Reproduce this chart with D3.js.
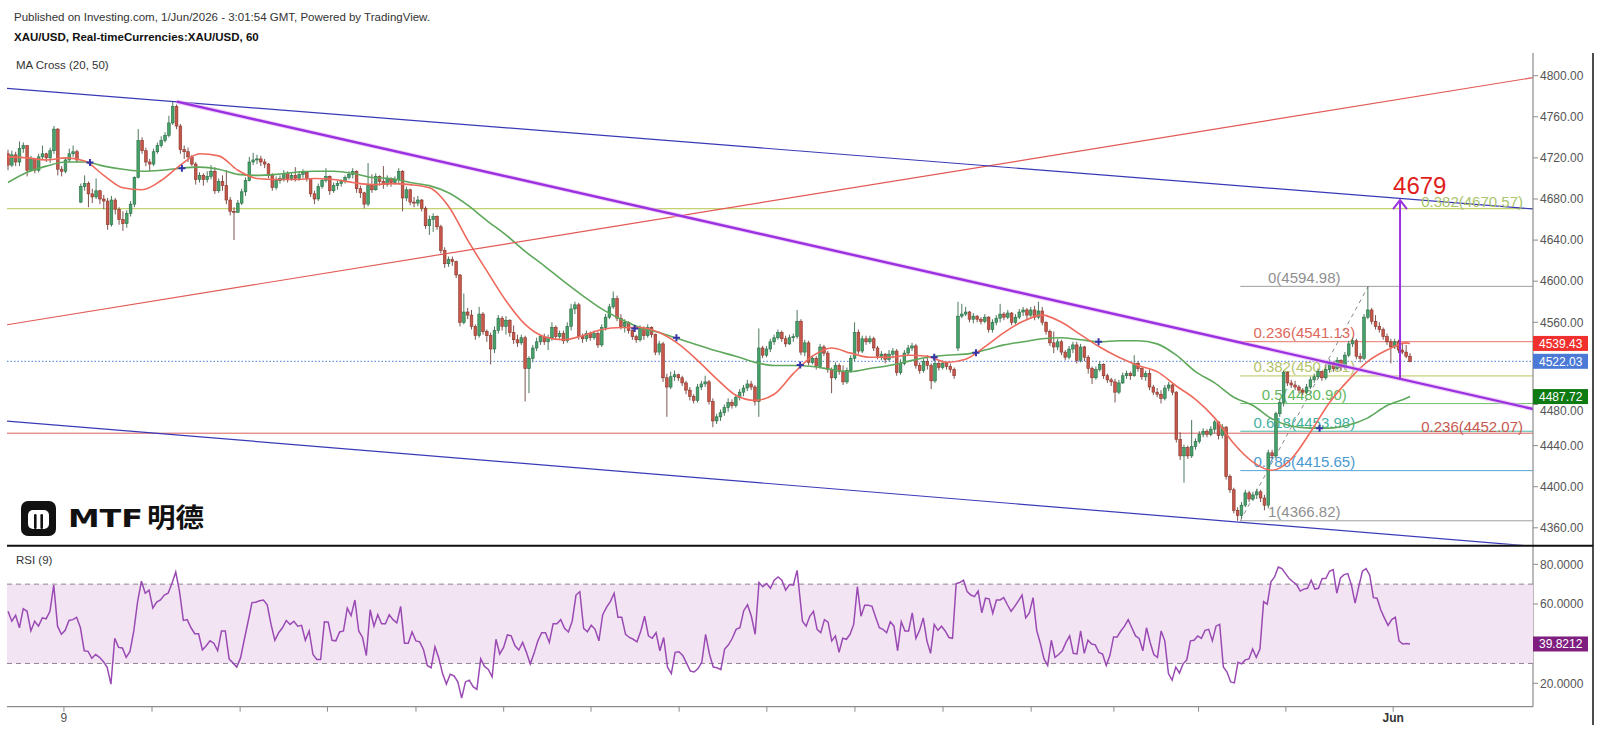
<!DOCTYPE html>
<html><head><meta charset="utf-8">
<script src="https://cdn.jsdelivr.net/npm/d3@7"></script>
<style>
html,body{margin:0;padding:0;background:#fff;}
svg{display:block;font-family:"Liberation Sans",Arial,sans-serif;}
</style></head><body>
<svg id="c" width="1600" height="734"></svg>
<script>
// ---------------- DATA ----------------
const closes = [4713,4723,4716,4729,4732,4708,4719,4708,4721,4724,
4720,4727,4748,4709,4707,4718,4724,4726,4718,4692,
4695,4685,4682,4688,4680,4678,4655,4679,4670,4660,
4656,4666,4675,4701,4737,4727,4716,4714,4726,4732,
4737,4742,4754,4770,4751,4728,4726,4721,4714,4699,
4703,4699,4702,4707,4688,4697,4693,4679,4668,4667,
4676,4687,4698,4716,4718,4719,4716,4714,4703,4691,
4698,4700,4705,4700,4703,4700,4704,4706,4700,4685,
4680,4692,4698,4702,4688,4693,4695,4697,4701,4704,
4707,4690,4686,4675,4693,4689,4702,4697,4694,4700,
4696,4699,4707,4681,4689,4677,4676,4679,4671,4654,
4660,4663,4653,4630,4617,4621,4619,4606,4560,4570,
4567,4556,4547,4568,4551,4547,4534,4552,4564,4556,
4562,4550,4543,4540,4545,4515,4525,4535,4541,4546,
4541,4545,4555,4546,4549,4542,4556,4573,4577,4546,
4544,4549,4545,4549,4538,4555,4565,4575,4583,4564,
4556,4560,4552,4546,4543,4554,4547,4555,4548,4531,
4539,4506,4497,4507,4509,4506,4501,4494,4488,4484,
4497,4500,4502,4483,4464,4468,4472,4477,4482,4479,
4487,4492,4496,4500,4497,4483,4535,4528,4534,4541,
4545,4550,4544,4539,4545,4546,4561,4531,4540,4521,
4525,4517,4536,4530,4514,4506,4518,4512,4502,4513,
4525,4550,4532,4544,4541,4544,4535,4527,4529,4524,
4529,4532,4511,4520,4530,4535,4537,4518,4513,4522,
4518,4503,4520,4516,4520,4517,4514,4508,4566,4568,
4570,4563,4566,4563,4561,4565,4553,4560,4564,4568,
4565,4569,4560,4565,4570,4572,4567,4572,4565,4571,
4560,4551,4540,4536,4541,4531,4526,4534,4538,4523,
4536,4526,4515,4506,4514,4519,4508,4504,4502,4492,
4501,4508,4510,4508,4520,4515,4507,4510,4497,4492,
4490,4486,4496,4499,4492,4446,4430,4438,4430,4439,
4444,4451,4454,4451,4456,4463,4450,4458,4410,4397,
4377,4372,4382,4394,4388,4392,4395,4389,4382,4433,
4430,4471,4482,4511,4501,4499,4497,4494,4492,4497,
4504,4507,4512,4506,4514,4521,4515,4523,4516,4528,
4539,4542,4527,4525,4565,4572,4561,4556,4553,4546,
4541,4536,4541,4533,4531,4527,4522.03];
const highs = [4728,4727,4726,4736,4735,4732,4722,4720,4724,4732,
4725,4730,4751,4749,4712,4720,4729,4732,4728,4695,
4703,4697,4690,4700,4689,4684,4681,4683,4681,4672,
4668,4669,4678,4702,4748,4740,4730,4719,4729,4735,
4741,4745,4761,4775,4772,4753,4732,4730,4723,4716,
4706,4705,4707,4713,4711,4700,4703,4708,4682,4672,
4679,4690,4701,4721,4725,4723,4722,4719,4715,4705,
4702,4703,4708,4707,4706,4711,4707,4709,4707,4700,
4688,4695,4700,4710,4703,4696,4698,4699,4703,4707,
4710,4708,4693,4687,4715,4704,4705,4703,4712,4703,
4701,4702,4710,4708,4692,4690,4682,4683,4680,4673,
4664,4666,4664,4655,4633,4624,4624,4620,4607,4588,
4574,4572,4558,4575,4570,4553,4550,4556,4567,4566,
4566,4563,4557,4548,4548,4547,4527,4538,4545,4548,
4549,4548,4560,4557,4552,4552,4560,4578,4580,4579,
4549,4552,4551,4552,4551,4558,4568,4578,4590,4586,
4568,4563,4561,4553,4548,4557,4556,4558,4556,4549,
4542,4541,4510,4512,4513,4510,4508,4503,4497,4490,
4500,4503,4508,4504,4486,4471,4475,4480,4486,4485,
4490,4495,4499,4504,4503,4499,4554,4537,4537,4544,
4548,4553,4552,4547,4548,4549,4572,4563,4543,4542,
4528,4527,4539,4538,4532,4516,4521,4520,4518,4516,
4528,4560,4553,4547,4547,4547,4546,4537,4532,4530,
4533,4535,4534,4524,4533,4538,4540,4539,4521,4525,
4528,4520,4523,4522,4523,4521,4520,4516,4580,4578,
4575,4571,4569,4567,4565,4568,4566,4563,4567,4578,
4570,4572,4570,4568,4573,4575,4574,4575,4576,4580,
4575,4561,4553,4551,4544,4543,4533,4537,4541,4541,
4539,4537,4528,4517,4517,4522,4520,4510,4506,4505,
4504,4511,4513,4512,4528,4522,4516,4513,4514,4499,
4496,4494,4499,4502,4500,4493,4453,4441,4440,4465,
4447,4454,4457,4456,4459,4465,4464,4461,4459,4412,
4399,4380,4385,4397,4396,4395,4398,4397,4392,4436,
4436,4473,4485,4513,4512,4504,4503,4499,4496,4500,
4507,4510,4515,4512,4517,4524,4522,4526,4524,4531,
4542,4545,4544,4530,4568,4594.98,4574,4567,4560,4555,
4549,4544,4544,4543,4540,4538,4530];
const lows = [4708,4711,4712,4712,4725,4702,4707,4705,4706,4718,
4716,4715,4724,4703,4702,4705,4716,4721,4715,4676,
4688,4672,4676,4680,4675,4670,4650,4653,4665,4655,
4649,4652,4663,4672,4700,4724,4712,4707,4712,4724,
4730,4735,4740,4752,4748,4724,4719,4716,4712,4694,
4696,4693,4696,4699,4685,4686,4688,4675,4664,4640,
4668,4674,4683,4697,4713,4714,4712,4710,4700,4688,
4689,4695,4697,4696,4698,4697,4698,4700,4697,4682,
4675,4678,4690,4696,4684,4686,4689,4692,4695,4699,
4700,4686,4681,4671,4673,4686,4688,4693,4690,4692,
4692,4694,4694,4668,4678,4674,4672,4673,4668,4651,
4645,4648,4650,4627,4613,4614,4615,4603,4556,4558,
4563,4553,4543,4545,4548,4541,4519,4530,4549,4552,
4548,4546,4539,4536,4538,4483,4491,4521,4532,4538,
4538,4533,4542,4543,4543,4539,4540,4552,4568,4543,
4540,4541,4542,4543,4535,4536,4552,4563,4573,4561,
4553,4550,4549,4543,4540,4541,4543,4545,4545,4528,
4528,4502,4468,4495,4503,4503,4498,4490,4484,4481,
4482,4494,4497,4480,4458,4461,4464,4469,4473,4476,
4477,4484,4488,4493,4494,4479,4468,4525,4526,4531,
4538,4543,4541,4536,4538,4541,4544,4528,4527,4518,
4519,4514,4515,4527,4511,4491,4504,4509,4499,4500,
4511,4522,4529,4530,4538,4539,4532,4524,4523,4520,
4522,4525,4508,4509,4518,4528,4532,4515,4510,4511,
4514,4495,4501,4513,4514,4514,4511,4505,4532,4564,
4566,4560,4559,4560,4558,4559,4550,4550,4557,4560,
4562,4563,4557,4558,4563,4566,4563,4565,4562,4563,
4557,4548,4537,4530,4533,4528,4523,4524,4530,4520,
4521,4522,4510,4500,4504,4512,4505,4501,4498,4482,
4490,4500,4505,4504,4507,4512,4504,4503,4494,4489,
4487,4481,4484,4493,4489,4443,4426,4404,4427,4428,
4436,4442,4448,4448,4449,4452,4446,4447,4407,4394,
4374,4366.82,4369,4380,4385,4386,4388,4385,4377,4379,
4427,4428,4468,4478,4498,4496,4494,4491,4489,4490,
4495,4501,4505,4503,4504,4511,4512,4513,4513,4514,
4526,4536,4524,4521,4523,4563,4558,4553,4550,4543,
4538,4520,4534,4530,4529,4525,4521];
const firstOpen = 4724;
const gapOpens = [[19, 4677], [248, 4535]];   // session gaps [bar, open]

// moving averages (bar index, value)
const maIdx = [0,5,10,15,20,25,30,35,40,45,50,55,60,65,70,75,80,85,90,95,100,105,110,115,120,125,130,135,140,145,150,155,160,165,170,175,180,185,190,195,200,205,210,215,220,225,230,235,240,245,250,255,260,265,270,275,280,285,290,295,300,305,310,315,320,325,330,335,340,345,350,355,360,365,366];
const ma20 = [4721,4720,4718,4720,4717,4703,4691,4689,4698,4713,4724,4722,4708,4700,4699,4699,4700,4699,4696,4694,4695,4694,4691,4673,4640,4610,4581,4558,4546,4543,4547,4553,4555,4555,4550,4539,4523,4505,4489,4484,4490,4510,4527,4535,4530,4526,4526,4528,4527,4521,4524,4536,4550,4561,4567,4560,4548,4536,4526,4518,4512,4498,4485,4467,4442,4424,4416,4427,4453,4482,4504,4522,4533,4540,4539.43];
const ma50 = [4696,4706,4712,4716,4716,4712,4709,4707,4708,4710,4711,4709,4704,4703,4704,4706,4707,4707,4705,4701,4700,4696,4693,4686,4674,4659,4645,4629,4615,4600,4586,4573,4563,4555,4550,4544,4538,4532,4527,4521,4518,4518,4517,4514,4512,4515,4518,4522,4526,4528,4529,4533,4538,4541,4544,4545,4543,4541,4542,4542,4539,4528,4512,4501,4487,4479,4466,4459,4457,4457,4460,4467,4479,4486,4487.72];
const crossIdx = [21.4,45.4,163.6,174.5,206.8,241.8,252.7,284.7,342.4];
const crossPrice = [4715.5,4709.9,4553.9,4544.9,4518.4,4525.9,4530.4,4541.1,4456.8];

// RSI(9), two spans of bars
const rsiA = [56.3,51.3,54.3,48.0,57.6,56.3,46.4,51.3,48.8,53.0,52.5,56.3,69.5,48.8,44.7,46.7,51.7,52.1,53.3,48.0,36.4,36.1,32.6,34.5,33.1,31.0,28.2,19.6,42.7,38.1,37.8,33.1,36.1,46.4,61.2,71.5,65.4,67.0,57.9,60.9,62.0,64.5,65.4,70.3,76.1,66.2,51.7,52.1,48.0,45.0,45.0,36.8,38.9,41.4,40.2,36.4,46.4,46.4,32.3,30.3,28.2,32.8,42.2,51.3,60.7,60.9,61.6,62.0,59.6,49.7,41.7,45.5,48.0,51.7,49.7,51.3,48.8,49.2,41.7,46.4,34.5,32.0,32.0,51.0,50.8,41.7,41.4,45.9,46.4,57.9,54.1,62.0,46.4,43.1,34.0,57.1,48.8,54.6,50.0,50.0,54.6,52.1,50.5,58.8,40.2,40.2,45.9,41.4,40.9,36.9,29.0,27.8,38.4,32.8,24.9,19.6,24.6,23.7,20.7,12.5,20.7,21.6,18.3,16.9,32.3,28.5,27.0,23.2,42.2,34.8,38.1,44.4,43.9,38.9,36.8,40.6,35.6,29.8,35.1,41.4,45.5,45.5,40.6,50.0,50.0,52.1,47.7,45.9,51.3,64.5,66.2,47.7,46.0,49.3,47.2,41.4,54.6,58.3,61.2,65.4,53.3,53.3,44.7,43.1,42.2,40.9,46.4,53.8,43.9,42.7,45.5,36.4,43.1,28.2,24.9,35.6,35.9,34.0,30.2,26.2,25.7,27.4,30.6,44.7,34.8,28.2,27.8,26.9,37.3,39.4,42.7,47.2,48.0,56.6,59.6,53.8,44.7,70.8,68.7,70.3,67.9,72.0,73.6,72.0,67.0,69.8,69.5,76.9];
const rsiB = [51.3,48.8,53.8,56.3,47.2,45.5,52.1,50.8,41.4,43.9,35.6,42.7,42.2,44.7,49.7,68.7,53.8,59.3,59.3,58.8,53.3,48.0,47.2,45.5,51.0,48.8,36.4,51.0,46.4,46.4,55.5,42.7,46.7,53.0,41.4,35.1,49.7,46.7,48.8,46.4,43.1,42.7,70.3,70.8,72.0,66.2,64.5,63.7,66.5,55.5,62.9,62.6,55.3,62.0,62.0,63.2,59.6,56.3,58.8,61.6,64.5,53.0,55.5,63.2,46.7,40.1,32.3,29.0,41.7,33.1,34.5,36.4,40.6,43.9,35.1,34.8,46.4,35.1,41.7,39.8,39.4,35.6,34.8,29.0,34.0,43.4,43.4,46.4,48.8,52.1,48.0,43.9,42.6,36.4,48.0,40.6,34.5,33.1,46.4,41.4,24.9,21.6,28.2,25.2,29.8,31.8,41.4,41.7,43.9,42.7,46.7,47.2,41.4,48.8,49.7,28.2,25.7,20.7,20.2,30.6,29.8,31.8,32.3,37.3,33.1,37.3,61.2,59.9,71.2,73.6,78.6,77.8,75.3,72.8,71.2,69.8,66.5,67.5,67.9,72.0,67.5,67.9,72.8,72.8,76.5,77.3,65.4,73.1,74.8,75.3,69.5,60.4,68.7,76.5,77.8,74.5,63.2,62.9,57.1,53.0,49.2,52.1,53.3,41.4,39.8,40.1,39.8212];
const rsiSpanA = [0, 206];
const rsiSpanB = [207.4, 366];

// drawings (bar index, price)
const channelUpper = [[-0.3,4787.7],[398.2,4670.3]];
const channelLower = [[-0.26,4463.9],[398.2,4342.0]];
const trendPurple = [[44.05,4774.7],[398.2,4475.6]];
const trendRed = [[-0.26,4557.6],[398.2,4798.2]];
const arrowBar = 363.4, arrowFrom = 4504.5, arrowTo = 4679, arrowText = "4679";

const fibRatios = ["0","0.236","0.382","0.5","0.618","0.786","1"];
const fibValues = [4594.98,4541.13,4507.81,4480.90,4453.98,4415.65,4366.82];
const fibColors = ["#9e9e9e","#e57368","#b9c65a","#6dbf6a","#4db8a8","#56a6d6","#9e9e9e"];
const fibTextColors = ["#8f8f8f","#e0675c","#b5c36a","#5fb85c","#45b0a0","#4a9ad0","#8f8f8f"];
const fibFrom = 321.7, fibTo = 355.1;

const bigFibRatios = ["0.382","0.236"];
const bigFibValues = [4670.57, 4452.07];
const bigFibColors = ["#b6c752","#d9625a"];
const bigFibText = ["#a9c46c","#c95a50"];

const lastPrice = 4522.03;
const priceTicks = [4360,4400,4440,4480,4520,4560,4600,4640,4680,4720,4760,4800];
const rsiTicks = [20,40,60,80];
const tickIdx = [14.6,37.6,60.6,83.4,106.5,129.4,152.2,175.2,198.1,221.1,244.1,267.1,288.7,310.8,333.6,361.6];
const tickLabels = ["9","","","","","","","","","","","","","","","Jun"];
const priceBoxes = [[4539.43,"#f0302e"],[4522.03,"#4a7ad6"],[4487.72,"#0d7a12"]];
const rsiBox = [39.8212,"#7e1f80"];

// ---------------- LAYOUT ----------------
const svg = d3.select('#c');
const L=7, R=1533, TOP=53, MID=545.7, RBOT=706.7, FR=1593;
const N = closes.length;
const x = d3.scaleLinear().domain([0, N-1]).range([8, 1410]);
const y = d3.scaleLinear().domain([4360, 4800]).range([527.8, 75.7]);
const yr = d3.scaleLinear().domain([20, 80]).range([683.3, 564.3]);

const defs = svg.append('defs');
defs.append('clipPath').attr('id','cm').append('rect').attr('x',L).attr('y',TOP).attr('width',R-L).attr('height',MID-TOP-1);
defs.append('clipPath').attr('id','cr').append('rect').attr('x',L).attr('y',MID+1).attr('width',R-L).attr('height',RBOT-MID-1);

// header
svg.append('text').attr('x',14).attr('y',21).attr('font-size',11.5).attr('fill','#333').text('Published on Investing.com, 1/Jun/2026 - 3:01:54 GMT, Powered by TradingView.');
svg.append('text').attr('x',14).attr('y',41).attr('font-size',11.5).attr('font-weight','bold').attr('fill','#111').text('XAU/USD, Real-timeCurrencies:XAU/USD, 60');

const gm = svg.append('g').attr('clip-path','url(#cm)');

// big fib levels (full width)
bigFibValues.forEach((v,k)=>{
  gm.append('line').attr('x1',L).attr('x2',R).attr('y1',y(v)).attr('y2',y(v)).attr('stroke',bigFibColors[k]).attr('stroke-width',1);
});
// last price dotted line
gm.append('line').attr('x1',L).attr('x2',R).attr('y1',y(lastPrice)).attr('y2',y(lastPrice)).attr('stroke','#4a7ad6').attr('stroke-width',1).attr('stroke-dasharray','1.5,2');

// fib retracement
fibValues.forEach((v,k)=>{
  gm.append('line').attr('x1',x(fibFrom)).attr('x2',R).attr('y1',y(v)).attr('y2',y(v)).attr('stroke',fibColors[k]).attr('stroke-width',1);
  gm.append('text').attr('x',x((fibFrom+fibTo)/2)).attr('y',y(v)-3.5).attr('text-anchor','middle').attr('font-size',15).attr('fill',fibTextColors[k]).text(fibRatios[k]+'('+v.toFixed(2)+')');
});
gm.append('line').attr('x1',x(fibFrom)).attr('y1',y(fibValues[6])).attr('x2',x(fibTo)).attr('y2',y(fibValues[0])).attr('stroke','#8a8a8a').attr('stroke-width',1).attr('stroke-dasharray','4,4');

// candles
const opens = closes.map((c,i)=> i===0 ? firstOpen : closes[i-1]);
gapOpens.forEach(([i,o])=>{opens[i]=o;});
const bars = closes.map((c,i)=>({i, o:opens[i], c, h:Math.max(highs[i],opens[i],c), l:Math.min(lows[i],opens[i],c)}));
const UPF='#45a269', UPS='#2c6b46', DNF='#c8574b', DNS='#873429';
const cg = gm.append('g');
cg.selectAll('line').data(bars).join('line')
  .attr('x1',d=>x(d.i)).attr('x2',d=>x(d.i)).attr('y1',d=>y(d.h)).attr('y2',d=>y(d.l))
  .attr('stroke',d=>d.c>=d.o?'#4d7a5e':'#7d5550').attr('stroke-width',1);
cg.selectAll('rect').data(bars).join('rect')
  .attr('x',d=>x(d.i)-1.35).attr('width',2.7)
  .attr('y',d=>y(Math.max(d.o,d.c)))
  .attr('height',d=>Math.max(0.8, y(Math.min(d.o,d.c))-y(Math.max(d.o,d.c))))
  .attr('fill',d=>d.c>=d.o?UPF:DNF).attr('stroke',d=>d.c>=d.o?UPS:DNS).attr('stroke-width',0.6);

// moving averages
const maLine = d3.line().x(d=>x(d[0])).y(d=>y(d[1])).curve(d3.curveMonotoneX);
gm.append('path').attr('d',maLine(maIdx.map((k,j)=>[k,ma50[j]]))).attr('fill','none').attr('stroke','#5ea85c').attr('stroke-width',1.6);
gm.append('path').attr('d',maLine(maIdx.map((k,j)=>[k,ma20[j]]))).attr('fill','none').attr('stroke','#ee6a5c').attr('stroke-width',1.6);
crossIdx.forEach((k,j)=>{
  const cx=x(k), cy=y(crossPrice[j]);
  gm.append('path').attr('d',`M${cx-3.5},${cy}H${cx+3.5}M${cx},${cy-3.5}V${cy+3.5}`).attr('stroke','#3535a8').attr('stroke-width',2);
});

// trend lines
function tline(pts,col,w){
  gm.append('line').attr('x1',x(pts[0][0])).attr('y1',y(pts[0][1])).attr('x2',x(pts[1][0])).attr('y2',y(pts[1][1])).attr('stroke',col).attr('stroke-width',w);
}
tline(trendRed,'#e25a55',1.2);
tline(channelUpper,'#3a3ab8',1.2);
tline(channelLower,'#3a3ab8',1.2);
gm.append('line').attr('x1',x(trendPurple[0][0])).attr('y1',y(trendPurple[0][1])).attr('x2',x(trendPurple[1][0])).attr('y2',y(trendPurple[1][1])).attr('stroke','#e9b6f5').attr('stroke-width',4.5).attr('opacity',0.6);
tline(trendPurple,'#9b30e0',2.4);

// arrow
const ax=x(arrowBar), ay1=y(arrowFrom), ay2=y(arrowTo);
gm.append('line').attr('x1',ax).attr('x2',ax).attr('y1',ay1).attr('y2',ay2).attr('stroke','#9b30e0').attr('stroke-width',2);
gm.append('path').attr('d',`M${ax-7},${ay2+9}L${ax},${ay2}L${ax+7},${ay2+9}`).attr('fill','none').attr('stroke','#9b30e0').attr('stroke-width',2);
gm.append('text').attr('x',ax-7).attr('y',ay2-6.5).attr('font-size',24).attr('fill','#e01e1e').text(arrowText);

// big fib labels
bigFibValues.forEach((v,k)=>{
  gm.append('text').attr('x',R-10).attr('y',y(v)-1.5).attr('text-anchor','end').attr('font-size',15).attr('fill',bigFibText[k]).text(bigFibRatios[k]+'('+v.toFixed(2)+')');
});

// indicator label
svg.append('text').attr('x',16).attr('y',69).attr('font-size',11.5).attr('fill','#333').text('MA Cross (20, 50)');

// logo
const lg = svg.append('g').attr('transform','translate(21,501)');
lg.append('rect').attr('width',35).attr('height',35).attr('rx',7).attr('fill','#111');
lg.append('rect').attr('x',7).attr('y',9).attr('width',21).attr('height',19).attr('rx',5).attr('fill','#fff');
lg.append('rect').attr('x',13).attr('y',13).attr('width',2.6).attr('height',15).attr('rx',1.3).attr('fill','#111');
lg.append('rect').attr('x',19.4).attr('y',13).attr('width',2.6).attr('height',15).attr('rx',1.3).attr('fill','#111');
svg.append('text').attr('x',68).attr('y',527).attr('font-size',24).attr('font-weight',900).attr('font-family','"DejaVu Sans",sans-serif').attr('textLength',75).attr('lengthAdjust','spacingAndGlyphs').attr('fill','#111').text('MTF');
svg.append('text').attr('x',147).attr('y',527).attr('font-size',26).attr('font-weight',700).attr('font-family','"Noto Sans CJK SC",sans-serif').attr('textLength',57).attr('lengthAdjust','spacingAndGlyphs').attr('fill','#111').text('明德');

// right price axis
svg.append('line').attr('x1',R).attr('x2',R).attr('y1',TOP).attr('y2',RBOT).attr('stroke','#8c8c8c').attr('stroke-width',1.2);
const boxYs = priceBoxes.map(b=>y(b[0]));
priceTicks.forEach(v=>{
  const ty = y(v);
  svg.append('line').attr('x1',R).attr('x2',R+5).attr('y1',ty).attr('y2',ty).attr('stroke','#8c8c8c');
  const near = boxYs.filter(by=>Math.abs(by-ty)<15);
  if(near.some(by=>Math.abs(by-ty)<4)) return;        // fully hidden by a box
  let ly = ty;
  near.forEach(by=>{ ly = by < ty ? Math.max(ly, by+7.5+6.5) : Math.min(ly, by-7.5-6.5); }); // nudge clear of a box
  svg.append('text').attr('x',R+7).attr('y',ly).attr('dy','0.35em').attr('font-size',12).attr('fill','#555').text(v.toFixed(2));
});
priceBoxes.forEach(([v,col])=>{
  svg.append('rect').attr('x',R).attr('y',y(v)-7.5).attr('width',55).attr('height',15).attr('fill',col);
  svg.append('text').attr('x',R+6).attr('y',y(v)).attr('dy','0.36em').attr('font-size',12).attr('fill','#fff').text(v.toFixed(2));
});

// separator
svg.append('line').attr('x1',L).attr('x2',FR).attr('y1',MID).attr('y2',MID).attr('stroke','#111').attr('stroke-width',2);

// RSI pane
const gr = svg.append('g').attr('clip-path','url(#cr)');
gr.append('rect').attr('x',L).attr('width',R-L).attr('y',yr(70)).attr('height',yr(30)-yr(70)).attr('fill','#f3e4f4');
[70,30].forEach(v=>gr.append('line').attr('x1',L).attr('x2',R).attr('y1',yr(v)).attr('y2',yr(v)).attr('stroke','#8e8590').attr('stroke-width',1).attr('stroke-dasharray','5,4'));
const sA = d3.scaleLinear().domain([0, rsiA.length-1]).range(rsiSpanA);
const sB = d3.scaleLinear().domain([0, rsiB.length-1]).range(rsiSpanB);
const rsiPts = rsiA.map((v,k)=>[sA(k),v]).concat(rsiB.map((v,k)=>[sB(k),v]));
gr.append('path').attr('d',d3.line().x(d=>x(d[0])).y(d=>yr(d[1]))(rsiPts)).attr('fill','none').attr('stroke','#9a4bb3').attr('stroke-width',1.5);
svg.append('text').attr('x',16).attr('y',564).attr('font-size',11.5).attr('fill','#333').text('RSI (9)');
rsiTicks.forEach(v=>{
  svg.append('line').attr('x1',R).attr('x2',R+5).attr('y1',yr(v)).attr('y2',yr(v)).attr('stroke','#8c8c8c');
  if(Math.abs(yr(v)-yr(rsiBox[0]))<4) return;  // fully under the RSI value box
  svg.append('text').attr('x',R+7).attr('y',yr(v)).attr('dy','0.35em').attr('font-size',12).attr('fill','#555').text(v.toFixed(4));
});
svg.append('rect').attr('x',R).attr('y',yr(rsiBox[0])-7.5).attr('width',55).attr('height',15).attr('fill',rsiBox[1]);
svg.append('text').attr('x',R+6).attr('y',yr(rsiBox[0])).attr('dy','0.36em').attr('font-size',12).attr('fill','#fff').text(rsiBox[0].toFixed(4));

// time axis
svg.append('line').attr('x1',L).attr('x2',R).attr('y1',RBOT).attr('y2',RBOT).attr('stroke','#8c8c8c').attr('stroke-width',1.2);
tickIdx.forEach((k,j)=>{
  svg.append('line').attr('x1',x(k)).attr('x2',x(k)).attr('y1',RBOT).attr('y2',RBOT+5).attr('stroke','#8c8c8c');
  if(tickLabels[j]) svg.append('text').attr('x',x(k)).attr('y',722).attr('text-anchor','middle').attr('font-size',12)
     .attr('font-weight',tickLabels[j]==='Jun'?'bold':'normal').attr('fill',tickLabels[j]==='Jun'?'#333':'#555').text(tickLabels[j]);
});

// right frame
svg.append('line').attr('x1',FR).attr('x2',FR).attr('y1',TOP).attr('y2',725).attr('stroke','#111').attr('stroke-width',1.5);
</script>
</body></html>
